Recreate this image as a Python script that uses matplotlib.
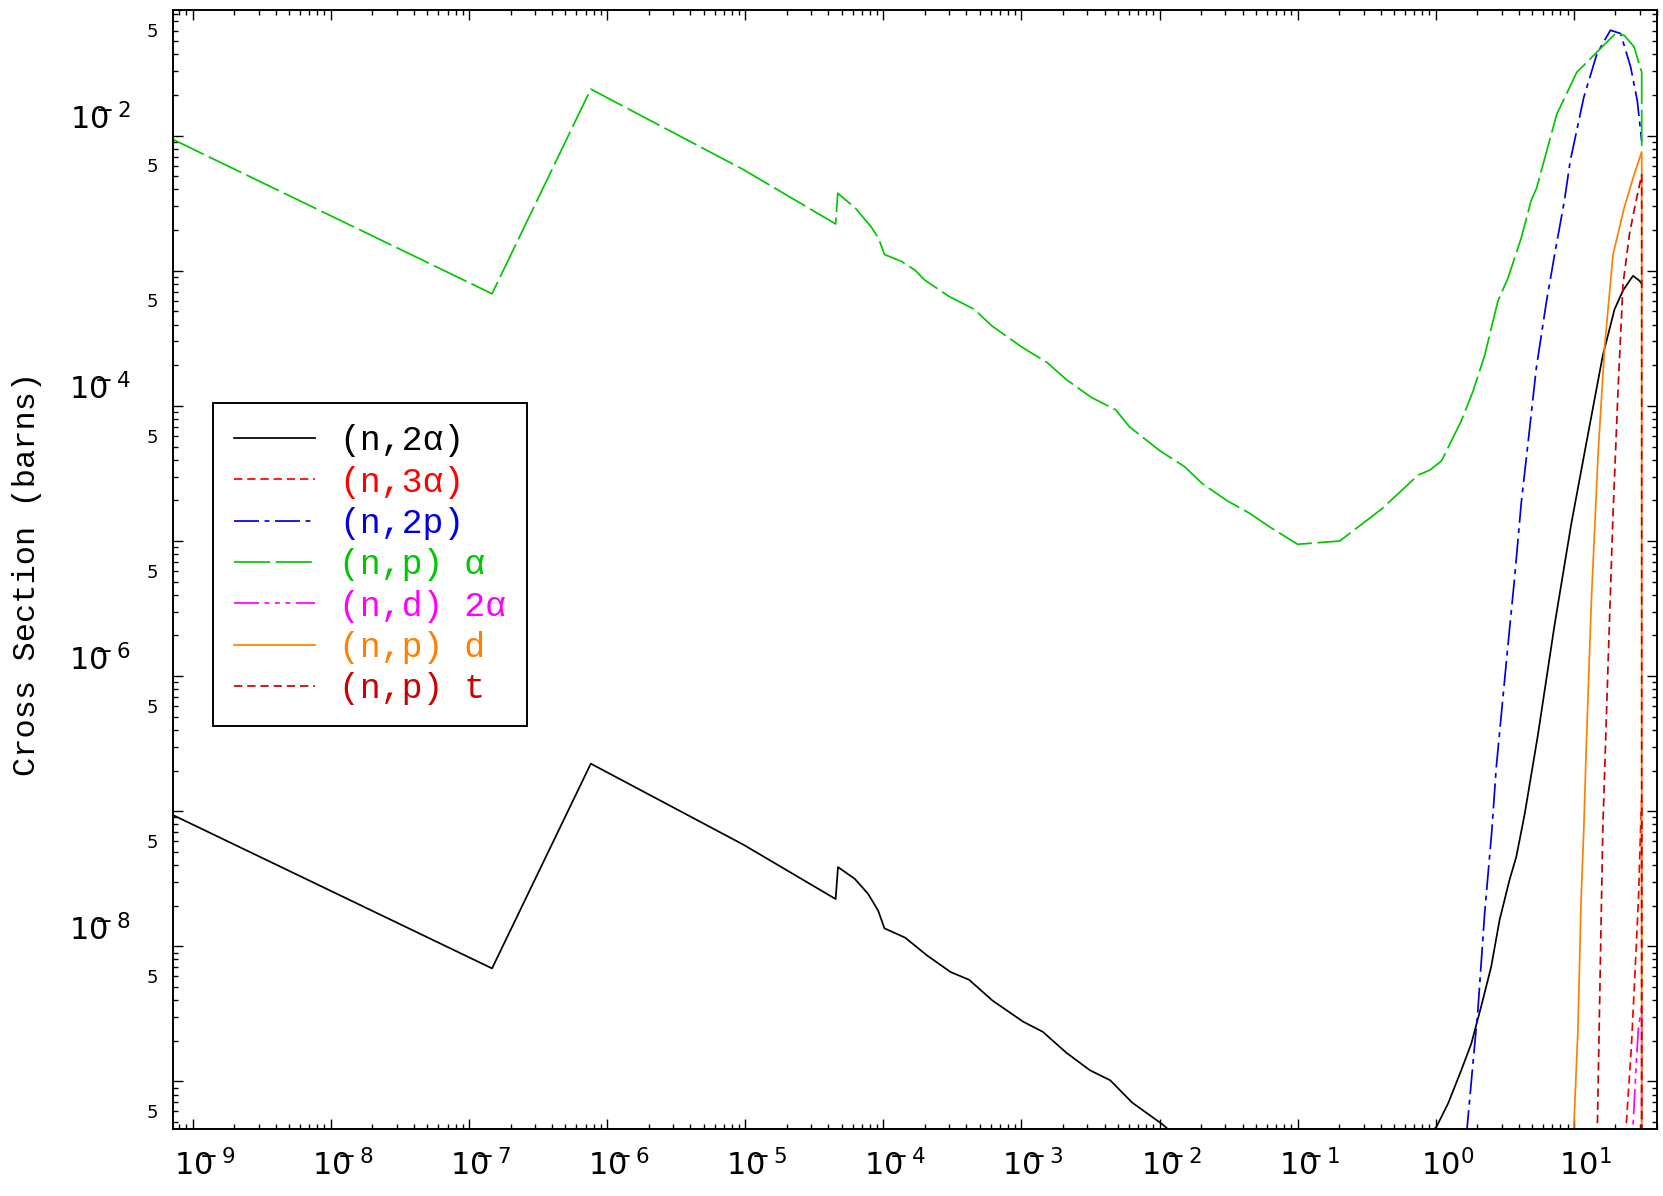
import numpy as np
import matplotlib
matplotlib.use('Agg')
import matplotlib.pyplot as plt
from matplotlib.ticker import FixedLocator, FixedFormatter
from matplotlib.transforms import ScaledTranslation

plt.rcParams['lines.scale_dashes'] = False
plt.rcParams['mathtext.default'] = 'regular'
MONO = ['Liberation Mono', 'DejaVu Sans Mono']

# ---------------- data (energy in MeV, cross section in barns) ----------------
e_n2a = [7.0e-10, 1.47e-7, 7.63e-7, 9.73e-6, 4.52e-5, 4.70e-5, 6.22e-5, 7.78e-5, 9.20e-5,
         1.02e-4, 1.44e-4, 2.08e-4, 3.07e-4, 4.18e-4, 6.18e-4, 1.03e-3, 1.43e-3, 2.12e-3,
         3.14e-3, 4.40e-3, 6.34e-3, 1.05e-2, 1.5e-2, 0.1, 0.2, 0.4, 0.75, 1.01, 1.23, 1.53,
         1.81, 2.13, 2.52, 2.90, 3.42, 3.83, 4.40, 5.50, 7.25, 9.58, 12.6, 16.2, 19.7, 22.7,
         26.8, 29.9, 31.0]
xs_n2a = [9.5e-8, 6.87e-9, 2.25e-7, 5.65e-8, 2.24e-8, 3.86e-8, 3.16e-8, 2.44e-8, 1.83e-8,
          1.36e-8, 1.16e-8, 8.55e-9, 6.46e-9, 5.66e-9, 3.97e-9, 2.77e-9, 2.33e-9, 1.63e-9,
          1.21e-9, 1.02e-9, 6.98e-10, 4.82e-10, 3.5e-10, 1.0e-10, 1.0e-10, 1.8e-10, 3.5e-10,
          4.6e-10, 6.89e-10, 1.21e-9, 1.91e-9, 3.57e-9, 7.06e-9, 1.57e-8, 3.10e-8, 4.60e-8,
          9.46e-8, 3.70e-7, 2.39e-6, 1.34e-5, 6.01e-5, 2.36e-4, 5.18e-4, 7.15e-4, 9.18e-4,
          8.43e-4, 8.0e-4]

e_n3a = [23.5, 23.9, 26.1, 28.3, 29.4, 30.4, 31.0, 31.0]
xs_n3a = [2e-10, 4.6e-10, 1.81e-9, 9.93e-9, 2.33e-8, 7.26e-8, 1.2e-7, 1e-12]

e_n2p = [1.6, 1.69, 1.86, 2.02, 2.26, 2.55, 2.74, 3.07, 3.42, 3.72, 4.16, 4.65, 5.35, 6.31,
         7.25, 8.56, 9.41, 11.8, 14.7, 18.4, 21.8, 25.8, 28.8, 31.0]
xs_n2p = [2e-10, 4.62e-10, 1.36e-9, 3.38e-9, 1.75e-8, 7.26e-8, 2.08e-7, 7.05e-7, 2.22e-6,
          5.25e-6, 1.91e-5, 5.22e-5, 1.91e-4, 5.78e-4, 1.31e-3, 3.34e-3, 6.47e-3, 1.92e-2,
          4.04e-2, 6.03e-2, 5.70e-2, 3.21e-2, 1.81e-2, 9.1e-3]

e_npa = [7.0e-10, 1.47e-7, 7.63e-7, 9.73e-6, 4.52e-5, 4.68e-5, 6.30e-5, 8.15e-5, 9.24e-5,
         1.02e-4, 1.36e-4, 1.70e-4, 1.99e-4, 3.01e-4, 4.56e-4, 6.07e-4, 1.01e-3, 1.53e-3,
         2.11e-3, 3.19e-3, 4.83e-3, 6.04e-3, 1.01e-2, 1.52e-2, 2.03e-2, 3.08e-2, 4.51e-2,
         6.21e-2, 0.100, 0.202, 0.407, 0.747, 0.902, 1.10, 1.53, 1.86, 2.26, 2.82, 3.34,
         4.16, 4.92, 5.37, 7.52, 10.5, 14.3, 20.0, 23.1, 27.3, 31.0, 31.0]
xs_npa = [9.5e-3, 6.76e-4, 2.21e-2, 5.60e-3, 2.22e-3, 3.75e-3, 2.90e-3, 2.12e-3, 1.74e-3,
          1.32e-3, 1.17e-3, 1.01e-3, 8.55e-4, 6.43e-4, 5.19e-4, 3.93e-4, 2.72e-4, 2.10e-4,
          1.57e-4, 1.16e-4, 9.33e-5, 7.02e-5, 4.64e-5, 3.55e-5, 2.67e-5, 1.99e-5, 1.60e-5,
          1.28e-5, 9.46e-6, 1.00e-5, 1.73e-5, 3.08e-5, 3.34e-5, 3.91e-5, 7.73e-5, 1.28e-4,
          2.36e-4, 5.97e-4, 8.86e-4, 1.75e-3, 3.34e-3, 4.08e-3, 1.44e-2, 2.94e-2, 4.04e-2,
          5.70e-2, 5.54e-2, 4.54e-2, 2.94e-2, 7.7e-3]

e_nd2a = [26.5, 26.8, 28.3, 29.4, 31.0, 31.0]
xs_nd2a = [2e-10, 4.6e-10, 1.36e-9, 2.54e-9, 3.5e-9, 1e-12]

e_npd = [9.7, 10.0, 10.7, 11.3, 11.8, 12.3, 13.4, 15.0, 16.7, 19.2, 23.1, 27.3, 31.0, 31.0]
xs_npd = [2.2e-10, 4.6e-10, 2.40e-9, 2.33e-8, 7.26e-8, 2.99e-7, 3.66e-6, 4.52e-5, 2.72e-4,
          1.31e-3, 2.90e-3, 5.14e-3, 7.59e-3, 1e-12]

e_npt = [14.5, 14.8, 15.4, 16.2, 17.7, 19.2, 20.9, 22.7, 25.3, 27.5, 31.0, 31.0]
xs_npt = [2e-10, 4.6e-10, 4.24e-9, 7.26e-8, 1.25e-6, 1.54e-5, 1.32e-4, 7.96e-4, 1.88e-3,
          2.90e-3, 5.14e-3, 1e-12]

labels = ['(n,2α)', '(n,3α)', '(n,2p)', '(n,p) α', '(n,d) 2α', '(n,p) d', '(n,p) t']
xtick_exps = [-9, -8, -7, -6, -5, -4, -3, -2, -1, 0, 1]
ytick_exps = [-9, -8, -7, -6, -5, -4, -3, -2]
ytick_labeled = [-8, -6, -4, -2]


def exp_label(k):
    if k < 0:
        return r'$10^{\!\!\!\!\!-%d}$' % (-k)
    return r'$10^{%d}$' % k


# ---------------- figure ----------------
W, H = 1663, 1196
fig = plt.figure(figsize=(W / 100, H / 100), dpi=100)
ax = fig.add_axes([173 / W, 1 - 1129 / H, (1657 - 173) / W, (1129 - 10) / H])

series = [
    (e_n2a, xs_n2a, '#000000', '-'),
    (e_n3a, xs_n3a, '#ff0000', (0, (6, 3.5))),
    (e_n2p, xs_n2p, '#0000e6', (0, (18, 4, 3.5, 4))),
    (e_npa, xs_npa, '#00c800', (0, (26, 4))),
    (e_nd2a, xs_nd2a, '#ff00ff', (0, (18, 4, 3.5, 4, 3.5, 4, 3.5, 4))),
    (e_npd, xs_npd, '#ff8000', '-'),
    (e_npt, xs_npt, '#cc0000', (0, (6, 3.5))),
]
for (e, s, c, ls), lab in zip(series, labels):
    ax.plot(e, s, color=c, linestyle=ls, lw=1.25, label=lab)

ax.set_xscale('log')
ax.set_yscale('log')
ax.set_xlim(7.2e-10, 40)
ax.set_ylim(4.45e-10, 0.0851)

# x ticks
xmaj = [10.0 ** k for k in xtick_exps]
ax.xaxis.set_major_locator(FixedLocator(xmaj))
ax.xaxis.set_major_formatter(FixedFormatter([exp_label(k) for k in xtick_exps]))
xmin_t = [m * 10.0 ** k for k in range(-10, 2) for m in range(2, 10)]
ax.xaxis.set_minor_locator(FixedLocator(xmin_t))
ax.xaxis.set_minor_formatter(FixedFormatter([''] * len(xmin_t)))

# y ticks
ymaj = [10.0 ** k for k in ytick_exps]
ax.yaxis.set_major_locator(FixedLocator(ymaj))
ax.yaxis.set_major_formatter(FixedFormatter(
    [exp_label(k) if k in ytick_labeled else '' for k in ytick_exps]))
ymin_t = [m * 10.0 ** k for k in range(-10, -1) for m in range(2, 10)]
ax.yaxis.set_minor_locator(FixedLocator(ymin_t))
ax.yaxis.set_minor_formatter(FixedFormatter(['5' if m == 5 else ''
                                             for k in range(-10, -1) for m in range(2, 10)]))

ax.tick_params(which='both', direction='in', top=True, right=True, width=1.0)
ax.tick_params(which='major', length=7.5)
ax.tick_params(which='minor', length=3.8)
ax.tick_params(axis='x', which='major', labelsize=22, pad=14.5)
ax.tick_params(axis='y', which='major', labelsize=22, pad=30)
ax.tick_params(axis='y', which='minor', labelsize=13, pad=11)
for sp in ax.spines.values():
    sp.set_linewidth(1.4)

fig.canvas.draw()
off = ScaledTranslation(12 / 100, 0, fig.dpi_scale_trans)
for lbl in ax.get_xticklabels():
    lbl.set_transform(lbl.get_transform() + off)
for lbl in ax.get_yticklabels() + ax.get_yticklabels(minor=True):
    lbl.set_verticalalignment('bottom')

ax.set_ylabel('Cross Section (barns)', fontsize=23, family=MONO)
ax.yaxis.set_label_coords(-0.088, 0.496)

leg = ax.legend(loc='upper left', bbox_to_anchor=(0.027, 0.6484), borderaxespad=0,
                prop={'family': MONO, 'size': 25}, labelcolor='linecolor',
                handlelength=2.33, handletextpad=0.70, labelspacing=0.24,
                borderpad=0.6, fancybox=False, framealpha=1, edgecolor='black')
leg.get_frame().set_linewidth(1.4)

fig.savefig('out.png', dpi=100)
